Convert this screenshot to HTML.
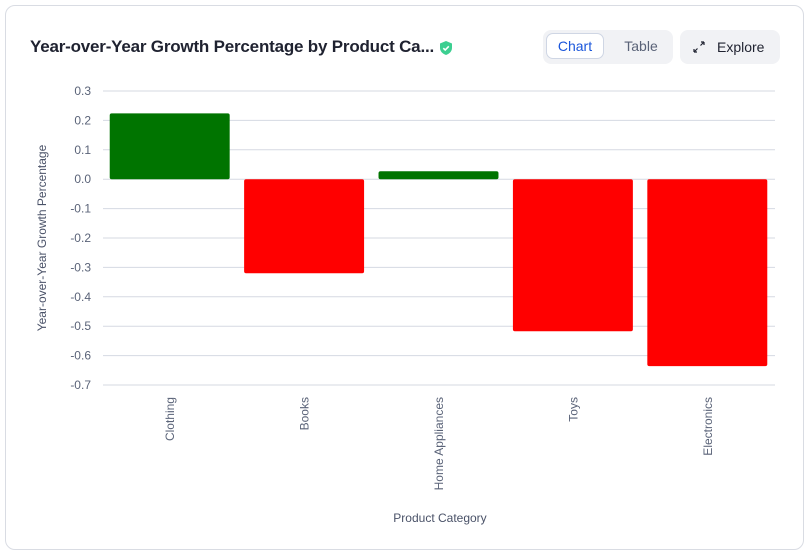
<!DOCTYPE html>
<html><head><meta charset="utf-8"><style>
body{margin:0;background:#fff;font-family:"Liberation Sans",sans-serif;}
.card{position:absolute;left:5px;top:5px;width:799px;height:545px;border:1px solid #d9dce3;border-radius:10px;background:#fff;box-sizing:border-box;}
.title{position:absolute;left:24px;top:31px;font-size:17px;font-weight:bold;color:#1f2230;letter-spacing:-0.2px;}
.badge{position:absolute;left:432px;top:34px;}
.seg{position:absolute;left:537px;top:24px;width:130px;height:34px;background:#f1f2f5;border-radius:8px;}
.seg .on{position:absolute;left:3px;top:3px;width:58px;height:26px;background:#fff;border:1px solid #cfd6e4;border-radius:7px;box-sizing:border-box;color:#1a56db;font-size:14px;text-align:center;line-height:24px;}
.seg .off{position:absolute;left:70px;top:3px;width:56px;height:26px;color:#5a6378;font-size:14px;text-align:center;line-height:26px;}
.exp{position:absolute;left:674px;top:24px;width:100px;height:34px;background:#f1f2f5;border-radius:8px;color:#1f2230;font-size:14px;line-height:34px;}
</style></head><body>
<div class="card">
<div class="title">Year-over-Year Growth Percentage by Product Ca...</div>
<svg class="badge" width="16" height="16" viewBox="0 0 16 16"><path d="M8 1 L14 3.5 V8 C14 11.5 11 14 8 15 C5 14 2 11.5 2 8 V3.5 Z" fill="#3ccf91"/><path d="M5.3 8.2 L7.2 10 L10.8 6.3" stroke="#fff" stroke-width="1.6" fill="none"/></svg>
<div class="seg">
<div class="on">Chart</div>
<div class="off">Table</div>
</div>
<div class="exp"><svg style="position:absolute;left:13px;top:11px" width="12" height="12" viewBox="0 0 12 12"><path d="M1 11 L4.5 7.5 M1 11 V8 M1 11 H4 M11 1 L7.5 4.5 M11 1 V4 M11 1 H8" stroke="#1f2230" stroke-width="1.2" fill="none"/></svg><span style="position:absolute;left:37px">Explore</span></div>
</div>
<svg id="chart" width="811" height="555" style="position:absolute;left:0;top:0"></svg>
<script>
const categories=["Clothing","Books","Home Appliances","Toys","Electronics"];
const values=[0.224,-0.32,0.027,-0.517,-0.636];
const yTicks=[0.3,0.2,0.1,0.0,-0.1,-0.2,-0.3,-0.4,-0.5,-0.6,-0.7];
const NS="http://www.w3.org/2000/svg";
const svg=document.getElementById('chart');
const x0=103,x1=775,yTop=91,yBot=385,yMax=0.3,yMin=-0.7;
const band=(x1-x0)/categories.length;
function y(v){return yTop+(yMax-v)/(yMax-yMin)*(yBot-yTop);}
function xb(i){return x0+i*band;}
function mk(t,a){const e=document.createElementNS(NS,t);for(const k in a)e.setAttribute(k,a[k]);svg.appendChild(e);return e;}
yTicks.forEach(t=>{
 const g=mk('line',{x1:x0,x2:x1,y1:y(t),y2:y(t),stroke:'#d5d9e2','stroke-width':1});
 
 
 const l=mk('text',{x:91,y:y(t)+4,'text-anchor':'end','font-size':12,fill:'#5a6378','font-family':'Liberation Sans, sans-serif'});
 l.textContent=t.toFixed(1);
 
 
});
categories.forEach((c,i)=>{
 const v=values[i];
 const bx=xb(i)+band*0.05,bw=band*0.9-1;
 const top=Math.min(y(v),y(0)),h=Math.abs(y(v)-y(0));
 const r=mk('rect',{x:bx,y:top,width:bw,height:h,fill:v>=0?'#007400':'#ff0000',rx:2});
 
 
 const cx=xb(i)+band/2+4;
 const t=mk('text',{x:cx,y:397,'text-anchor':'end','font-size':12,fill:'#5a6378','font-family':'Liberation Sans, sans-serif',transform:`rotate(-90 ${cx} 397)`});
 t.textContent=c;
 
 
});
const xt=mk('text',{x:440,y:522,'text-anchor':'middle','font-size':12,fill:'#4a5268','font-family':'Liberation Sans, sans-serif'});
xt.textContent='Product Category';


const yt=mk('text',{x:46,y:238,'text-anchor':'middle','font-size':12,fill:'#4a5268','font-family':'Liberation Sans, sans-serif',transform:'rotate(-90 46 238)'});
yt.textContent='Year-over-Year Growth Percentage';


</script>
</body></html>
